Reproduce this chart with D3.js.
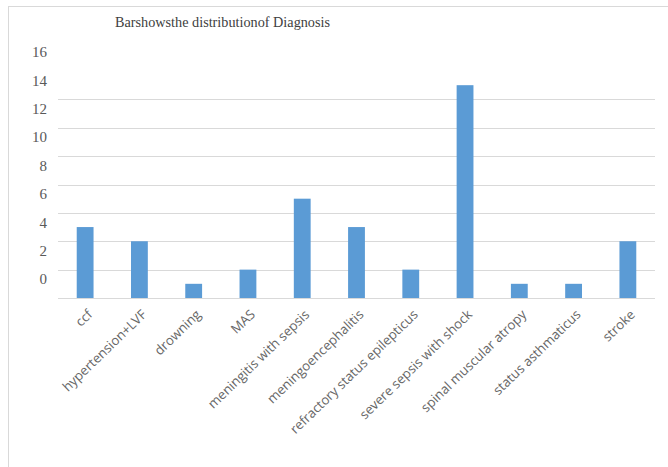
<!DOCTYPE html>
<html>
<head>
<meta charset="utf-8">
<script src="https://cdn.jsdelivr.net/npm/d3@7"></script>
<style>
  html, body { margin: 0; padding: 0; background: #fff; }
  svg { display: block; }
</style>
</head>
<body>
<svg id="chart" width="668" height="467"></svg>
<script>
// Diagnosis categories and patient counts
const categories = [
  "ccf", "hypertension+LVF", "drowning", "MAS", "meningitis with sepsis",
  "meningoencephalitis", "refractory status epilepticus", "severe sepsis with shock",
  "spinal muscular atropy", "status asthmaticus", "stroke"
];
const counts = [5, 4, 1, 2, 7, 5, 2, 15, 1, 1, 4];
const yTicks = [0, 2, 4, 6, 8, 10, 12, 14, 16];
const gridTicks = [2, 4, 6, 8, 10, 12, 14];
const titleText = "Barshowsthe distributionof Diagnosis";

const svg = d3.select("#chart");

// outer frame of the chart area
svg.append("rect")
  .attr("x", 8.5).attr("y", 6.5)
  .attr("width", 700).attr("height", 500)
  .attr("fill", "none").attr("stroke", "#d9d9d9").attr("stroke-width", 1);

const plot = { left: 58, right: 655, top: 71, bottom: 298 };

const x = d3.scaleBand()
  .domain(categories)
  .range([plot.left, plot.right])
  .paddingInner(0.69)
  .paddingOuter(0.345);

const y = d3.scaleLinear()
  .domain([0, 16])
  .range([plot.bottom, plot.top]);

// horizontal gridlines
svg.append("g").selectAll("line")
  .data(gridTicks)
  .join("line")
  .attr("x1", plot.left).attr("x2", plot.right)
  .attr("y1", d => Math.round(y(d)) + 0.5)
  .attr("y2", d => Math.round(y(d)) + 0.5)
  .attr("stroke", "#d9d9d9").attr("stroke-width", 1);

// bars
svg.append("g").selectAll("rect")
  .data(categories.map((c, i) => ({ c, v: counts[i] })))
  .join("rect")
  .attr("x", d => x(d.c))
  .attr("width", x.bandwidth())
  .attr("y", d => y(d.v))
  .attr("height", d => y(0) - y(d.v))
  .attr("fill", "#5b9bd5");

// category axis (baseline + rotated labels)
const xAxis = svg.append("g")
  .attr("transform", `translate(0,${Math.round(y(0)) + 0.5})`)
  .call(d3.axisBottom(x).tickSize(0).tickPadding(0));
xAxis.select(".domain").attr("stroke", "#d9d9d9").attr("d", `M${plot.left},0H${plot.right}`);
xAxis.selectAll("text")
  .attr("font-family", "'Open Sans', sans-serif")
  .attr("font-size", 13.2)
  .attr("fill", "#666666")
  .attr("text-anchor", "end")
  .attr("dy", null).attr("y", 0)
  .attr("transform", "translate(8,17) rotate(-44)");

// value axis labels
const yAxis = svg.append("g")
  .attr("transform", `translate(${plot.left - 11},0)`)
  .call(d3.axisLeft(y).tickValues(yTicks).tickSize(0).tickPadding(0));
yAxis.select(".domain").remove();
yAxis.selectAll("text")
  .attr("font-family", "'Liberation Serif', serif")
  .attr("font-size", 15)
  .attr("fill", "#595959")
  .attr("dy", "0.32em")
  .attr("transform", "translate(0,-19)");

// title
svg.append("text")
  .attr("x", 115).attr("y", 27)
  .attr("font-family", "'Liberation Serif', serif")
  .attr("font-size", 15)
  .attr("fill", "#404040")
  .attr("textLength", 215)
  .attr("lengthAdjust", "spacingAndGlyphs")
  .text(titleText);
</script>
</body>
</html>
